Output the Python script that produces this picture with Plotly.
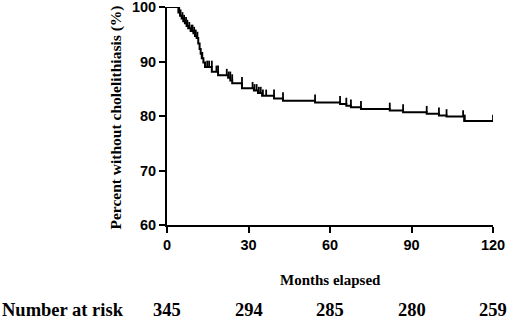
import plotly.graph_objects as go

# Kaplan-Meier event steps (months, percent surviving after the step)
event_times = [4.2, 4.8, 5.4, 6.0, 6.6, 7.2, 7.8, 8.7, 9.7, 10.3, 10.9, 11.5, 12.0, 12.4,
               12.8, 13.4, 14.0, 16.5, 18.8, 22.5, 23.3, 24.0, 27.6, 32.0, 33.5, 35.0,
               39.4, 42.7, 54.5, 63.7, 66.0, 67.7, 71.4, 82.0, 86.9, 95.6, 100.1, 102.9,
               109.4]
survival = [99.0, 98.4, 97.9, 97.4, 97.0, 96.5, 96.1, 95.6, 95.2, 94.7, 94.3, 93.3, 92.3,
            91.4, 90.6, 89.8, 89.0, 88.1, 87.5, 87.0, 86.5, 86.0, 85.1, 84.7, 84.2, 83.7,
            83.2, 82.8, 82.5, 82.2, 81.9, 81.6, 81.3, 81.0, 80.7, 80.4, 80.1, 79.9, 79.1]
end_time = 120

# Censored observations (months)
censor_times = [4.5, 5.0, 5.7, 6.3, 7.0, 7.5, 8.2, 9.0, 9.4, 10.0, 10.6, 11.2, 13.0, 14.8,
                15.5, 16.5, 18.2, 18.8, 22.0, 22.7, 23.3, 24.0, 27.6, 31.5, 32.2, 33.0,
                33.8, 34.5, 35.3, 36.5, 39.4, 42.7, 54.5, 63.7, 66.0, 67.7, 71.4, 82.0,
                86.9, 95.6, 100.1, 102.9, 109.0, 109.6, 120]

risk_times = [0, 30, 60, 90, 120]
risk_numbers = [345, 294, 285, 280, 259]

x_ticks = [0, 30, 60, 90, 120]
y_ticks = [60, 70, 80, 90, 100]

# step curve
xs = [0] + event_times + [end_time]
ys = [100] + survival + [survival[-1]]


def level_before(t):
    lv = 100
    for et, s in zip(event_times, survival):
        if et < t:
            lv = s
        else:
            break
    return lv


TICK_H = 1.15
cx, cy = [], []
for t in censor_times:
    lv = level_before(t)
    cx += [t, t, None]
    cy += [lv, lv + TICK_H, None]

fig = go.Figure()
fig.add_trace(go.Scatter(x=xs, y=ys, mode="lines", line=dict(color="black", width=2, shape="hv"),
                         cliponaxis=False, showlegend=False, hoverinfo="skip"))
fig.add_trace(go.Scatter(x=cx, y=cy, mode="lines", line=dict(color="black", width=1.8),
                         cliponaxis=False, showlegend=False, hoverinfo="skip"))

L, R, T, B = 167, 17, 7, 99
fig.update_layout(
    width=510, height=324,
    margin=dict(l=L, r=R, t=T, b=B, pad=0, autoexpand=False),
    paper_bgcolor="white", plot_bgcolor="white",
    showlegend=False,
)
tickfont = dict(family="Liberation Sans", size=14.5, color="black", weight="bold")
fig.update_xaxes(range=[0, 120], tickvals=x_ticks, ticktext=[f"<b>{v}</b>" for v in x_ticks],
                 showline=True, linecolor="black", linewidth=2, showgrid=False, zeroline=False,
                 ticks="outside", ticklen=6, tickwidth=2, tickcolor="black", automargin=False,
                 ticklabeloverflow="allow", tickfont=tickfont)
fig.update_yaxes(range=[60, 100], tickvals=y_ticks, ticktext=[f"<b>{v}</b>" for v in y_ticks],
                 showline=True, linecolor="black", linewidth=2, showgrid=False, zeroline=False,
                 ticks="outside", ticklen=6, tickwidth=2, tickcolor="black", automargin=False,
                 ticklabeloverflow="allow", tickfont=tickfont)

plot_w = 510 - L - R
plot_h = 324 - T - B
serif = "Liberation Serif"

fig.add_annotation(text="<b>Months elapsed</b>", xref="paper", yref="paper",
                   x=0.5, y=(225 - 280) / plot_h, xanchor="center", yanchor="middle",
                   showarrow=False, font=dict(family=serif, size=15, color="black"))
fig.add_annotation(text="<b>Percent without cholelithiasis (%)</b>", xref="paper", yref="paper",
                   x=(116 - L) / plot_w, y=0.493, xanchor="center", yanchor="middle",
                   textangle=-90, showarrow=False, font=dict(family=serif, size=15.5, color="black"))
fig.add_annotation(text="<b>Number at risk</b>", xref="paper", yref="paper",
                   x=(0 - L) / plot_w, y=(225 - 310) / plot_h, xanchor="left", yanchor="middle",
                   showarrow=False, font=dict(family=serif, size=18.5, color="black"))
for t, n in zip(risk_times, risk_numbers):
    fig.add_annotation(text=f"<b>{n}</b>", xref="x", yref="paper",
                       x=t, y=(225 - 310) / plot_h, xanchor="center", yanchor="middle",
                       showarrow=False, font=dict(family=serif, size=18.5, color="black"))

fig.write_html("out.html", config={"displayModeBar": False},
               post_script="document.body.style.margin='0';document.body.style.overflow='hidden';")
